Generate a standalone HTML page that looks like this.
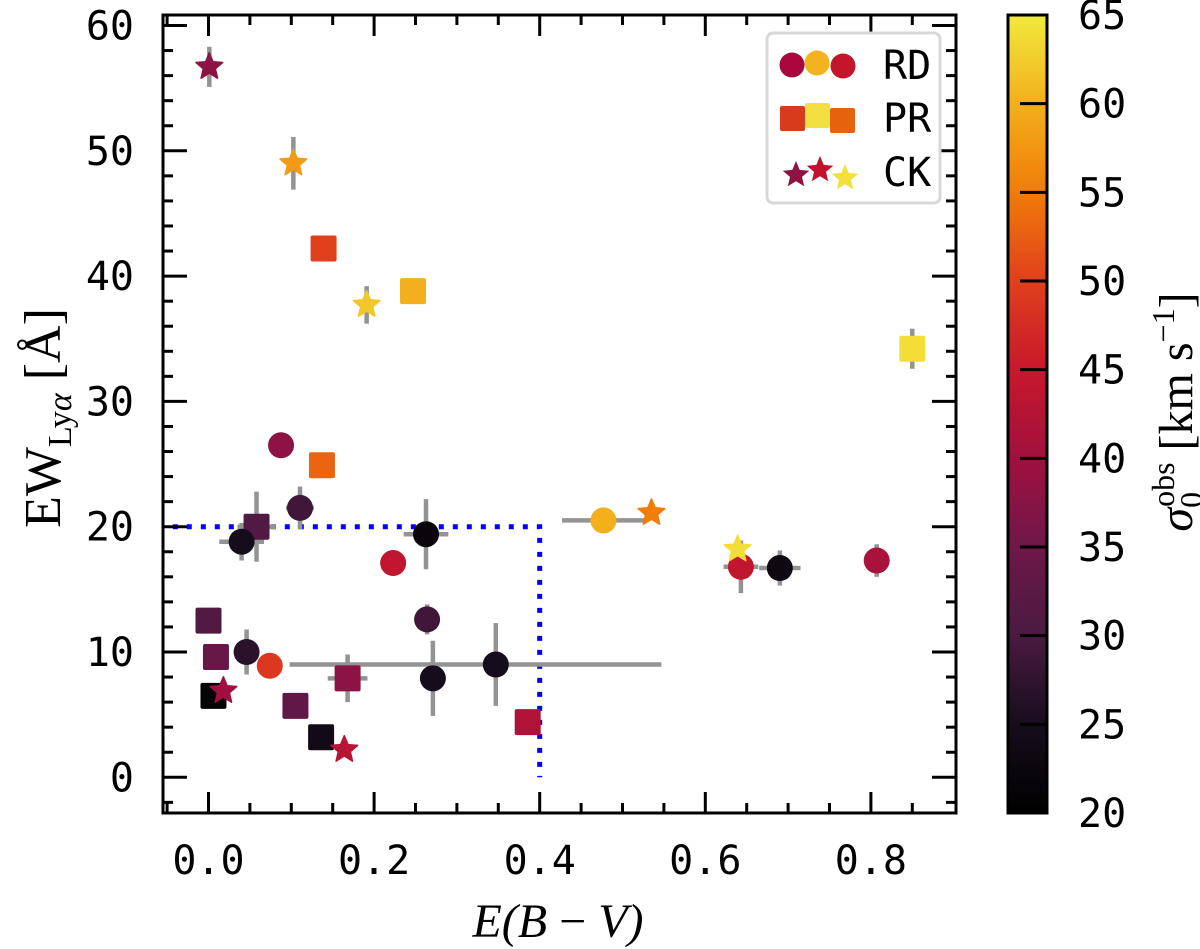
<!DOCTYPE html>
<html><head><meta charset="utf-8"><style>
body{margin:0;background:#fff}
svg{display:block}
.tk{font-family:"DejaVu Sans Mono","Liberation Mono",monospace;font-size:40px;fill:#000}
.lab{font-family:"Liberation Serif","DejaVu Serif",serif;fill:#000}
</style></head><body>
<svg id="chart" width="1200" height="949" viewBox="0 0 1200 949" xmlns="http://www.w3.org/2000/svg">
<defs>
<linearGradient id="cmap" x1="0" y1="1" x2="0" y2="0">
<stop offset="0" stop-color="#000000"/><stop offset="0.111" stop-color="#160d1c"/><stop offset="0.222" stop-color="#4a1a42"/><stop offset="0.333" stop-color="#6e1848"/><stop offset="0.444" stop-color="#a0103f"/><stop offset="0.556" stop-color="#c8182c"/><stop offset="0.667" stop-color="#e0401c"/><stop offset="0.778" stop-color="#f07c0a"/><stop offset="0.889" stop-color="#f3b01c"/><stop offset="1" stop-color="#f2ea3c"/>
</linearGradient>
<clipPath id="clip"><rect x="163" y="15" width="793" height="798"/></clipPath>
</defs>
<g id="plot" clip-path="url(#clip)"></g>
<g id="axes"></g>
<g id="legend">
<rect x="767" y="33" width="173" height="170" rx="6" fill="#fff" stroke="#d8d8d8" stroke-width="3"/>
<circle cx="792" cy="65" r="12.5" fill="#a8083d"/><circle cx="817" cy="63" r="12.5" fill="#f3b31f"/><circle cx="843" cy="66" r="12.5" fill="#c4162b"/>
<text class="tk" x="883" y="79">RD</text>
<rect x="780" y="106" width="25" height="25" rx="2" fill="#d83a1c"/><rect x="805" y="103" width="25" height="25" rx="2" fill="#f2e040"/><rect x="830" y="108" width="25" height="25" rx="2" fill="#e7620c"/>
<text class="tk" x="883" y="132">PR</text>
<g id="legstars"></g>
<text class="tk" x="883" y="186">CK</text>
</g>
<rect x="1008" y="15" width="39" height="798" fill="url(#cmap)" stroke="#000" stroke-width="3"/>
<g id="cbar"></g>
<text class="lab" x="558" y="937" text-anchor="middle" font-size="48" font-style="italic">E(B<tspan font-style="normal"> − </tspan>V)</text>
<text class="lab" transform="translate(60,418) rotate(-90)" text-anchor="middle" font-size="52">EW<tspan font-size="34" dy="11">Ly<tspan font-style="italic">α</tspan></tspan><tspan dy="-11"> [Å]</tspan></text>
<text class="lab" transform="translate(1192,412) rotate(-90)" text-anchor="middle" font-size="48"><tspan font-style="italic">σ</tspan><tspan font-size="32" dy="10">0</tspan><tspan font-size="32" dy="-28" dx="-15">obs</tspan><tspan dy="18"> [km s</tspan><tspan font-size="32" dy="-18">−1</tspan><tspan dy="18">]</tspan></text>
</svg>
<script>
const ebv   = [0.001,0.1025,0.139,0.191,0.247,0.850,0.0876,0.137,0.1105,0.058,0.040,0.2627,0.223,0.477,0.535,0.264,0.0,0.009,0.046,0.074,0.347,0.271,0.168,0.006,0.018,0.105,0.136,0.164,0.3855,0.643,0.690,0.807,0.639];
const ew    = [56.7,49.0,42.2,37.7,38.8,34.2,26.5,24.9,21.5,20.0,18.8,19.4,17.1,20.5,21.1,12.6,12.5,9.6,10.0,8.9,9.0,7.9,7.9,6.5,6.9,5.7,3.2,2.2,4.4,16.8,16.7,17.3,18.2];
const sigma = [38,58,50,62,60,64,38,53,29,31,25,22,44,60,55,29,31,34,27,49,25,25,38,21,40,33,24,43,42,44,23,41,64];
const kind  = ["CK","CK","PR","CK","PR","PR","RD","PR","RD","PR","RD","RD","RD","RD","CK","RD","PR","PR","RD","RD","RD","RD","PR","PR","CK","PR","PR","CK","PR","RD","RD","RD","CK"];
const xerrLo= [0,0,0,0,0,0,0,0,0.017,0.023,0.027,0.027,0,0.05,0,0,0,0,0,0,0.249,0.01,0.024,0.01,0,0,0.01,0,0,0.021,0.025,0,0];
const xerrHi= [0,0,0,0,0,0,0,0,0.017,0.023,0.027,0.027,0,0.05,0,0,0,0,0,0,0.200,0.01,0.024,0.01,0,0,0.01,0,0,0.021,0.025,0,0];
const yerr  = [1.6,2.1,0,1.5,0,1.6,0,0,1.7,2.8,1.5,2.8,0,0,0,1.2,0,0.9,1.8,0,3.3,3.0,1.9,0.6,0,0,0.8,0,0,2.1,1.4,1.3,0];
const xTicks=[0,0.2,0.4,0.6,0.8], xTickLabels=["0.0","0.2","0.4","0.6","0.8"];
const yTicks=[0,10,20,30,40,50,60], yTickLabels=["0","10","20","30","40","50","60"];
const cTicks=[20,25,30,35,40,45,50,55,60,65], cTickLabels=["20","25","30","35","40","45","50","55","60","65"];
const boxX=[-0.06,0.4], boxY=[0,20];

const NS="http://www.w3.org/2000/svg";
const X=v=>208.5+v*828, Y=v=>777.3-v*12.53, C=s=>813-(s-20)/45*798;
const stops=[[20,[0,0,0]],[25,[22,13,28]],[30,[74,26,66]],[35,[110,24,72]],[40,[160,16,63]],[45,[200,24,44]],[50,[224,64,28]],[55,[240,124,10]],[60,[243,176,28]],[65,[242,234,60]]];
function cmap(s){s=Math.max(20,Math.min(65,s));for(let i=0;i<stops.length-1;i++){const [a,ca]=stops[i],[b,cb]=stops[i+1];if(s<=b){const t=(s-a)/(b-a);return "rgb("+ca.map((c,k)=>Math.round(c+(cb[k]-c)*t)).join(",")+")";}}return "rgb(242,234,60)";}
function mk(tag,attrs,parent){const e=document.createElementNS(NS,tag);for(const k in attrs)e.setAttribute(k,attrs[k]);parent.appendChild(e);return e;}
function starPts(cx,cy,R){const r=R*0.45;let p=[];for(let i=0;i<10;i++){const a=-Math.PI/2+i*Math.PI/5,rr=i%2?r:R;p.push((cx+rr*Math.cos(a)).toFixed(1)+","+(cy+rr*Math.sin(a)).toFixed(1));}return p.join(" ");}
const plot=document.getElementById("plot"), axes=document.getElementById("axes");
let bl=mk("polyline",{points:`${X(boxX[0])},${Y(boxY[1])} ${X(boxX[1])},${Y(boxY[1])} ${X(boxX[1])},${Y(boxY[0])}`,fill:"none",stroke:"#0000ff","stroke-width":5,"stroke-dasharray":"5 9"},plot);


for(let i=0;i<ebv.length;i++){
  if(xerrLo[i]>0||xerrHi[i]>0){let l=mk("line",{x1:X(ebv[i]-xerrLo[i]),x2:X(ebv[i]+xerrHi[i]),y1:Y(ew[i]),y2:Y(ew[i]),stroke:"#939393","stroke-width":4.5},plot);
    
    }
  if(yerr[i]>0){let l=mk("line",{x1:X(ebv[i]),x2:X(ebv[i]),y1:Y(ew[i]-yerr[i]),y2:Y(ew[i]+yerr[i]),stroke:"#939393","stroke-width":4.5},plot);
    
    }
}
for(let i=0;i<ebv.length;i++){
  const cx=X(ebv[i]),cy=Y(ew[i]),col=cmap(sigma[i]);let m;
  if(kind[i]==="RD")m=mk("circle",{cx,cy,r:13,fill:col},plot);
  else if(kind[i]==="PR")m=mk("rect",{x:cx-13,y:cy-13,width:26,height:26,rx:2,fill:col},plot);
  else m=mk("polygon",{points:starPts(cx,cy,14),fill:col,"stroke-linejoin":"round",stroke:col,"stroke-width":1.5},plot);
  
  
}
let fr=mk("rect",{x:163,y:15,width:793,height:798,fill:"none",stroke:"#000","stroke-width":3},axes);


for(let v=-0.05;v<=0.9;v+=0.05){const vv=Math.round(v*100)/100,x=X(vv),maj=Math.abs(vv*10-Math.round(vv*10))<1e-6&&Math.round(vv*10)%2===0,L=maj?21:10;
  mk("line",{x1:x,x2:x,y1:813,y2:813-L,stroke:"#000","stroke-width":3},axes);
  mk("line",{x1:x,x2:x,y1:15,y2:15+L,stroke:"#000","stroke-width":3},axes);}
xTicks.forEach((v,i)=>{let t=mk("text",{x:X(v),y:874,"text-anchor":"middle",class:"tk"},axes);t.textContent=xTickLabels[i];
  
  });
for(let v=-2;v<=62;v+=2){const y=Y(v);if(y<15||y>813)continue;const L=v%10===0?24:10;
  mk("line",{x1:163,x2:163+L,y1:y,y2:y,stroke:"#000","stroke-width":3},axes);
  mk("line",{x1:956,x2:956-L,y1:y,y2:y,stroke:"#000","stroke-width":3},axes);}
yTicks.forEach((v,i)=>{let t=mk("text",{x:134,y:Y(v)+14,"text-anchor":"end",class:"tk"},axes);t.textContent=yTickLabels[i];
  
  });
const cb=document.getElementById("cbar");
cTicks.forEach((v,i)=>{const y=C(v);if(v>20&&v<65)mk("line",{x1:1020,x2:1047,y1:y,y2:y,stroke:"#000","stroke-width":3},cb);
  let t=mk("text",{x:1078,y:y+14,class:"tk"},cb);t.textContent=cTickLabels[i];
  
  });
const ls=document.getElementById("legstars");
[[796,175,"#8f1342"],[820,170,"#c0142c"],[845,178,"#f2e03b"]].forEach(s=>{let p=mk("polygon",{points:starPts(s[0],s[1],14),fill:s[2]},ls);
  
  });
</script>
</body></html>
